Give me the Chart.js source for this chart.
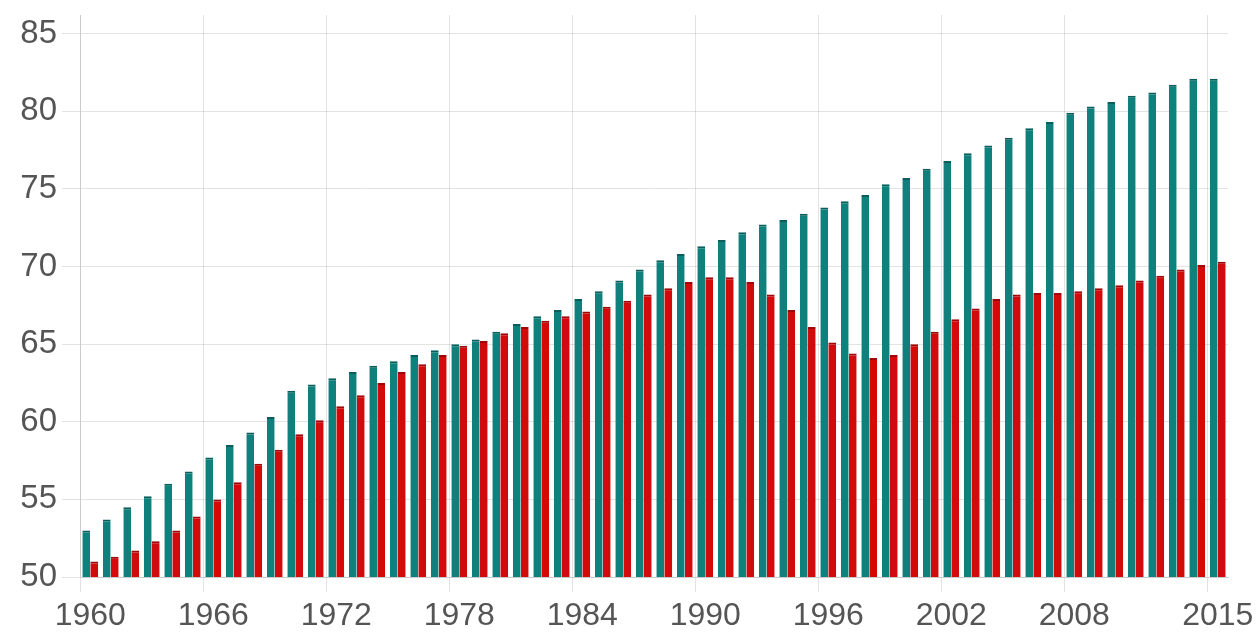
<!DOCTYPE html>
<html>
<head>
<meta charset="utf-8">
<title>Bar chart 1960-2015</title>
<script src="https://cdn.jsdelivr.net/npm/chart.js@4/dist/chart.umd.min.js"></script>
<style>
  html, body { margin: 0; padding: 0; background: #fff; }
  .chart-box { width: 1259px; height: 633px; position: relative; }
</style>
</head>
<body>
<div class="chart-box"><canvas id="mainChart"></canvas></div>
<script>
// years on the x axis, one bar pair per year
const years = [];
for (let y = 1960; y <= 2015; y++) years.push(y);

// labels that are actually shown under the axis
const tickYears = [1960, 1966, 1972, 1978, 1984, 1990, 1996, 2002, 2008, 2015];
const yTicks = [50, 55, 60, 65, 70, 75, 80, 85];

// teal series (higher one)
const tealValues = [
  53.0, 53.7, 54.5, 55.2, 56.0, 56.8, 57.7, 58.5, 59.3, 60.3,
  62.0, 62.4, 62.8, 63.2, 63.6, 63.9, 64.3, 64.6, 65.0, 65.3,
  65.8, 66.3, 66.8, 67.2, 67.9, 68.4, 69.1, 69.8, 70.4, 70.8,
  71.3, 71.7, 72.2, 72.7, 73.0, 73.4, 73.8, 74.2, 74.6, 75.3,
  75.7, 76.3, 76.8, 77.3, 77.8, 78.3, 78.9, 79.3, 79.9, 80.3,
  80.6, 81.0, 81.2, 81.7, 82.1, 82.1
];

// red series
const redValues = [
  51.0, 51.3, 51.7, 52.3, 53.0, 53.9, 55.0, 56.1, 57.3, 58.2,
  59.2, 60.1, 61.0, 61.7, 62.5, 63.2, 63.7, 64.3, 64.9, 65.2,
  65.7, 66.1, 66.5, 66.8, 67.1, 67.4, 67.8, 68.2, 68.6, 69.0,
  69.3, 69.3, 69.0, 68.2, 67.2, 66.1, 65.1, 64.4, 64.1, 64.3,
  65.0, 65.8, 66.6, 67.3, 67.9, 68.2, 68.3, 68.3, 68.4, 68.6,
  68.8, 69.1, 69.4, 69.8, 70.1, 70.3
];

const gridColor = "rgba(0,0,0,0.11)";
const textColor = "#555";
const fontFamily = "'Liberation Sans', Arial, sans-serif";

// only keep grid lines under the shown labels
function xGridColor(ctx) {
  if (!ctx.tick) return "transparent";
  return tickYears.includes(years[ctx.index]) ? gridColor : "transparent";
}

const ctx = document.getElementById("mainChart");
new Chart(ctx, {
  type: "bar",
  data: {
    labels: years,
    datasets: [
      {
        data: tealValues,
        backgroundColor: "#10807c",
        borderColor: "#0a5f5c",
        borderWidth: { top: 2, left: 0, right: 0, bottom: 0 },
        borderSkipped: false,
        categoryPercentage: 0.78,
        barPercentage: 0.98
      },
      {
        data: redValues,
        backgroundColor: "#d20a0c",
        borderColor: "#a00508",
        borderWidth: { top: 2, left: 0, right: 0, bottom: 0 },
        borderSkipped: false,
        categoryPercentage: 0.78,
        barPercentage: 0.98
      }
    ]
  },
  options: {
    responsive: true,
    maintainAspectRatio: false,
    animation: false,
    layout: { padding: { top: 15, right: 31, left: 0, bottom: 0 } },
    plugins: {
      legend: { display: false },
      tooltip: { enabled: false }
    },
    scales: {
      x: {
        offset: true,
        grid: {
          offset: true,
          color: xGridColor,
          tickLength: 15
        },
        border: { color: gridColor },
        ticks: {
          autoSkip: false,
          maxRotation: 0,
          minRotation: 0,
          padding: 5,
          color: textColor,
          font: { family: fontFamily, size: 32 },
          callback: function (value, index) {
            const y = years[index];
            return tickYears.includes(y) ? String(y) : "";
          }
        },
        afterFit: (scale) => {
          scale.height = 56;
          scale.paddingLeft = 0;
          scale.paddingRight = 0;
        }
      },
      y: {
        min: 50,
        max: 86.2,
        afterBuildTicks: (scale) => {
          scale.ticks = yTicks.map(v => ({ value: v }));
        },
        grid: {
          color: gridColor,
          tickLength: 18
        },
        border: { color: gridColor },
        ticks: {
          padding: 5,
          color: textColor,
          font: { family: fontFamily, size: 33 }
        },
        afterFit: (scale) => {
          scale.width = 80;
          scale.paddingTop = 0;
          scale.paddingBottom = 0;
        }
      }
    }
  }
});
</script>
</body>
</html>
